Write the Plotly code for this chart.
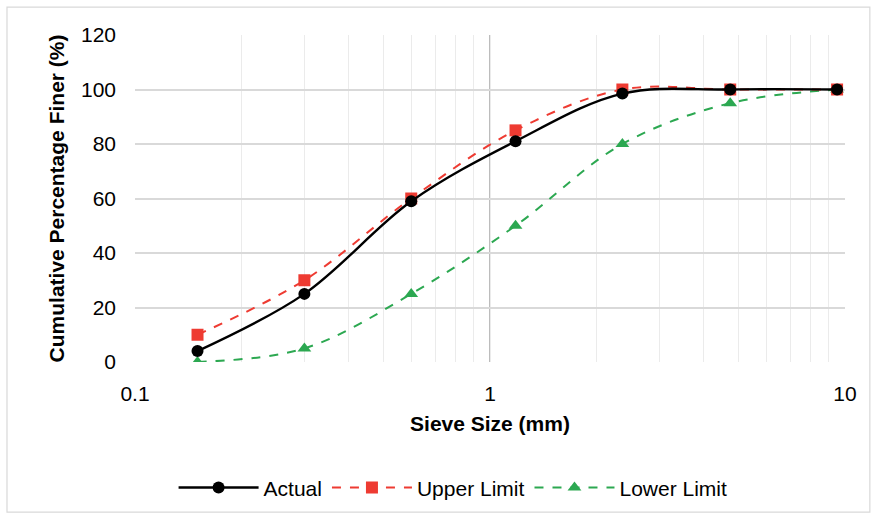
import plotly.graph_objects as go

sieve = [0.15, 0.3, 0.6, 1.18, 2.36, 4.75, 9.5]
actual = [4, 25, 59, 81, 98.5, 100, 100]
upper = [10, 30, 60, 85, 100, 100, 100]
lower = [0, 5, 25, 50, 80, 95, 100]

tickvals = [0.1, 0.2, 0.3, 0.4, 0.5, 0.6, 0.7, 0.8, 0.9, 1, 2, 3, 4, 5, 6, 7, 8, 9, 10]
ticktext = ["0.1" if v == 0.1 else "1" if v == 1 else "10" if v == 10 else "" for v in tickvals]

FONT = "Liberation Sans"

fig = go.Figure()
fig.add_trace(go.Scatter(x=sieve, y=lower, name="Lower Limit", mode="lines+markers",
                         line=dict(color="#2ca851", width=2, dash="dash", shape="spline", smoothing=1),
                         marker=dict(symbol="triangle-up", size=12, color="#2ca851")))
fig.add_trace(go.Scatter(x=sieve, y=upper, name="Upper Limit", mode="lines+markers",
                         line=dict(color="#ee3b32", width=2, dash="dash", shape="spline", smoothing=1),
                         marker=dict(symbol="square", size=12, color="#ee3b32")))
fig.add_trace(go.Scatter(x=sieve, y=actual, name="Actual", mode="lines+markers",
                         line=dict(color="#000000", width=2.4, shape="spline", smoothing=1),
                         marker=dict(symbol="circle", size=12, color="#000000")))

fig.add_shape(type="line", xref="x", yref="y", x0=1, x1=1, y0=0, y1=120,
              line=dict(color="#a6a6a6", width=1.5), layer="below")
fig.add_shape(type="rect", xref="paper", yref="paper", x0=-0.1803, x1=1.035, y0=-0.459, y1=1.085,
              line=dict(color="#d9d9d9", width=1.2))

fig.update_layout(
    width=877, height=520,
    margin=dict(l=135, r=32, t=35, b=156),
    paper_bgcolor="white", plot_bgcolor="white",
    font=dict(family=FONT, color="#000000"),
    legend=dict(orientation="h", x=0.448, xanchor="center", y=-0.385, yanchor="middle",
                traceorder="reversed", font=dict(size=21, family=FONT),
                itemwidth=80),
    showlegend=True,
)
fig.update_xaxes(type="log", range=[-1, 1], tickvals=tickvals, ticktext=ticktext,
                 showgrid=True, gridcolor="#ebebeb", gridwidth=1.2,
                 tickfont=dict(size=21), ticks="", zeroline=False, showline=False,
                 ticklabelstandoff=17,
                 title=dict(text="<b>Sieve Size (mm)</b>", font=dict(size=21), standoff=12))
fig.update_yaxes(range=[0, 120], dtick=20, showgrid=True, gridcolor="#d9d9d9", gridwidth=1.5,
                 tickfont=dict(size=21), ticks="", zeroline=False, showline=False,
                 ticklabelstandoff=18,
                 title=dict(text="<b>Cumulative Percentage Finer (%)</b>", font=dict(size=21), standoff=10))

fig.write_html("out.html")
